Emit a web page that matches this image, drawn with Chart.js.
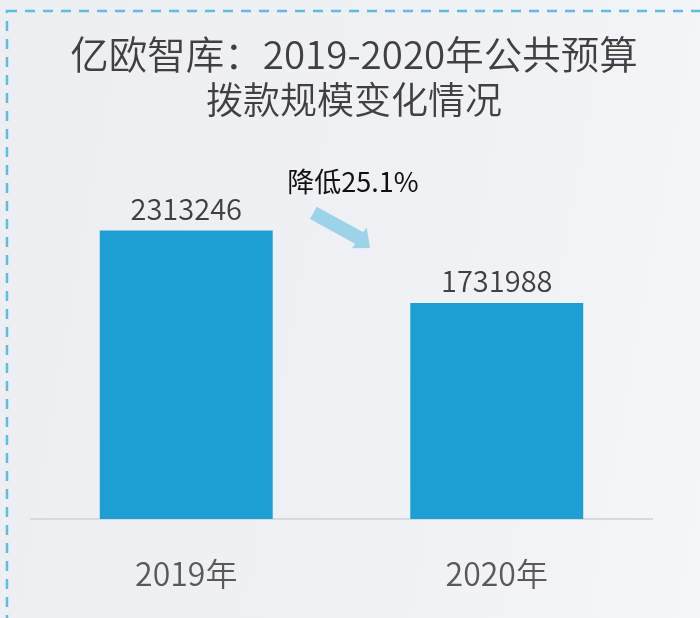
<!DOCTYPE html>
<html>
<head>
<meta charset="utf-8">
<script src="https://cdn.jsdelivr.net/npm/chart.js@4.4.1/dist/chart.umd.min.js"></script>
<style>
  html, body { margin: 0; padding: 0; }
  body {
    width: 700px; height: 618px; overflow: hidden;
    background: linear-gradient(100deg, #eceef2 0%, #f0f1f4 60%, #f5f6f8 100%);
  }
  #wrap { position: relative; width: 700px; height: 618px; }
</style>
</head>
<body>
<div id="wrap"><canvas id="budgetChart" width="700" height="618"></canvas></div>
<script>
const years = ['2019年', '2020年'];
const budget = [2313246, 1731988];
const titleLines = ['亿欧智库：2019-2020年公共预算', '拨款规模变化情况'];
const changeNote = '降低25.1%';

const FONT = '"Noto Sans CJK SC", "Noto Sans", sans-serif';

// border, title, arrow and value labels
const decorations = {
  id: 'decorations',
  beforeDraw(chart) {
    const ctx = chart.ctx;
    ctx.save();
    ctx.strokeStyle = '#5bbde6';
    ctx.lineWidth = 2.5;
    ctx.setLineDash([10, 8]);
    ctx.strokeRect(7, 11, 720, 640);
    ctx.restore();
  },
  afterDatasetsDraw(chart) {
    const ctx = chart.ctx;
    ctx.save();
    ctx.textAlign = 'center';
    ctx.textBaseline = 'middle';
    ctx.fillStyle = '#404040';
    ctx.font = '350 38.5px ' + FONT;
    ctx.fillText(titleLines[0], 354, 54);
    ctx.font = '350 37px ' + FONT;
    ctx.fillText(titleLines[1], 354, 100);

    const meta = chart.getDatasetMeta(0);
    ctx.font = '350 29px ' + FONT;
    meta.data.forEach((bar, i) => {
      ctx.fillText(String(budget[i]), bar.x, bar.y - 22);
    });

    ctx.fillStyle = '#111111';
    ctx.font = '27px ' + FONT;
    ctx.fillText(changeNote, 353, 182);

    ctx.fillStyle = '#9dd3e9';
    ctx.beginPath();
    ctx.moveTo(316.7, 206.7);
    ctx.lineTo(362.9, 232);
    ctx.lineTo(366.7, 227.7);
    ctx.lineTo(370, 248);
    ctx.lineTo(351.7, 248.3);
    ctx.lineTo(355.5, 244);
    ctx.lineTo(310, 219);
    ctx.closePath();
    ctx.fill();
    ctx.restore();
  }
};

new Chart(document.getElementById('budgetChart'), {
  type: 'bar',
  data: {
    labels: years,
    datasets: [{
      data: budget,
      backgroundColor: '#1e9fd4',
      barPercentage: 0.557,
      categoryPercentage: 1
    }]
  },
  options: {
    responsive: false,
    animation: false,
    layout: { padding: { left: 31, right: 48, top: 145, bottom: 0 } },
    plugins: {
      legend: { display: false },
      tooltip: { enabled: false }
    },
    scales: {
      y: { display: false, min: 0, max: 3000000 },
      x: {
        grid: { display: false, drawTicks: false },
        border: { display: true, color: '#d9d9d9', width: 2 },
        ticks: { color: '#595959', padding: 36, font: { family: FONT, size: 32, weight: '350' } },
        afterFit(scale) { scale.height = 99; }
      }
    }
  },
  plugins: [decorations]
});
</script>
</body>
</html>
